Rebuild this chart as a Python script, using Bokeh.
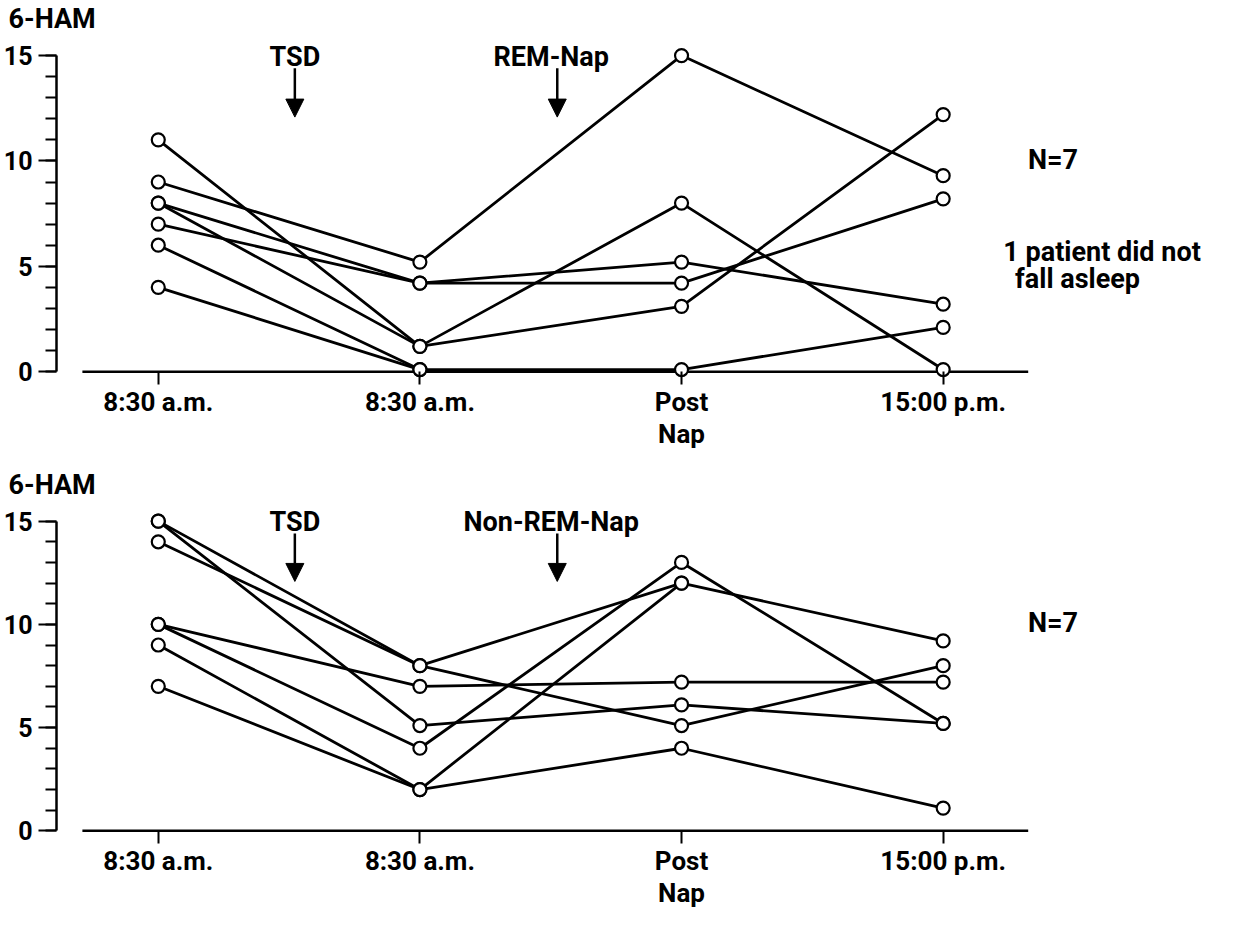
from bokeh.plotting import figure
from bokeh.models import Range1d, FixedTicker, Label, Arrow, NormalHead
from bokeh.layouts import column
from bokeh.embed import file_html
from bokeh.resources import INLINE

# ---- data ----
time_positions = [0, 1, 2, 3]
time_labels = ["8:30 a.m.", "8:30 a.m.", "Post\nNap", "15:00 p.m."]
y_ticks = [0, 5, 10, 15]
y_minor_ticks = list(range(0, 16))

# REM-Nap group (values per patient at the four time points; None = no value)
rem_series = [
    [9, 5.2, 15, 9.3],
    [8, 4.2, 5.2, 3.2],
    [7, 4.2, 4.2, 8.2],
    [11, 1.2, 8, 0.1],
    [8, 1.2, 3.1, 12.2],
    [6, 0.1, 0.1, 2.1],
    [4, 0.1, None, None],
]

# Non-REM-Nap group
nonrem_series = [
    [15, 8, 12, 9.2],
    [14, 8, 5.1, 8],
    [10, 7, 7.2, 7.2],
    [15, 5.1, 6.1, 5.2],
    [10, 4, 13, 5.2],
    [9, 2, 12, None],
    [7, 2, 4, 1.1],
]

FONT = "Roboto"
FS = "27px"

def make_panel(series, nap_text, notes, height, bottom_border):
    p = figure(width=1220, height=height,
               x_range=Range1d(-0.389, 4.06), y_range=Range1d(-0.42, 16.0),
               output_backend="svg", toolbar_location=None,
               min_border_left=53, min_border_right=0,
               min_border_top=32, min_border_bottom=bottom_border)
    p.xgrid.visible = False
    p.ygrid.visible = False
    p.outline_line_color = None
    p.background_fill_color = "white"
    p.border_fill_color = "white"

    p.title.text = "6-HAM"
    p.title.align = "left"
    p.title.offset = -48
    p.title.standoff = 0
    p.title.text_font = FONT
    p.title.text_font_size = FS
    p.title.text_font_style = "bold"
    p.title.text_color = "black"

    xa = p.xaxis[0]
    xa.ticker = FixedTicker(ticks=time_positions)
    xa.major_label_overrides = {t: lab for t, lab in zip(time_positions, time_labels)}
    xa.axis_line_color = None
    xa.major_tick_in = 9
    xa.major_tick_out = 4
    xa.major_tick_line_width = 2
    xa.major_tick_line_color = "black"
    xa.minor_tick_line_color = None
    xa.major_label_text_font = FONT
    xa.major_label_text_font_size = "26px"
    xa.major_label_text_font_style = "bold"
    xa.major_label_text_color = "black"
    xa.major_label_standoff = 2
    xa.major_label_text_line_height = 1.08

    ya = p.yaxis[0]
    ya.ticker = FixedTicker(ticks=y_ticks, minor_ticks=y_minor_ticks)
    ya.bounds = (0, 15)
    ya.axis_line_width = 2.5
    ya.axis_line_color = "black"
    ya.major_tick_in = 0
    ya.major_tick_out = 18
    ya.minor_tick_in = 0
    ya.minor_tick_out = 11
    ya.major_tick_line_width = 2
    ya.minor_tick_line_width = 2
    ya.major_tick_line_color = "black"
    ya.minor_tick_line_color = "black"
    ya.major_label_text_font = FONT
    ya.major_label_text_font_size = "25px"
    ya.major_label_text_font_style = "bold"
    ya.major_label_text_color = "black"
    ya.major_label_standoff = 6

    # detached horizontal baseline at y = 0
    baseline_start, baseline_end = -0.29, 3.325
    p.segment(x0=[baseline_start], y0=[0], x1=[baseline_end], y1=[0],
              line_width=2.5, line_color="black")

    pts_x, pts_y = [], []
    for s in series:
        xs = [t for t, v in zip(time_positions, s) if v is not None]
        ys = [v for v in s if v is not None]
        p.line(xs, ys, line_width=2.8, line_color="black")
        pts_x += xs
        pts_y += ys
    p.scatter(pts_x, pts_y, size=13, marker="circle", fill_color="white",
              line_color="black", line_width=2.2)

    def lab(x, y, text, align="left"):
        p.add_layout(Label(x=x, y=y, text=text, text_font=FONT, text_font_size=FS,
                           text_font_style="bold", text_color="black",
                           text_align=align, text_baseline="alphabetic"))

    lab(0.522, 14.95, "TSD", "center")
    lab(1.502, 14.95, nap_text, "center")
    lab(3.42, 10.05, "N=7", "center")
    for (x, y, t) in notes:
        lab(x, y, t)

    for ax in (0.522, 1.525):
        p.add_layout(Arrow(end=NormalHead(size=18, fill_color="black", line_color="black"),
                           x_start=ax, y_start=14.4, x_end=ax, y_end=12.08,
                           line_width=2.5, line_color="black"))
    return p

top = make_panel(rem_series, "REM-Nap",
                 [(3.23, 5.66, "1 patient did not"), (3.275, 4.4, "fall asleep")],
                 466, 86)
bottom = make_panel(nonrem_series, "Non-REM-Nap", [], 444, 64)

layout = column(top, bottom)
open("out.html", "w").write(file_html(layout, INLINE))
